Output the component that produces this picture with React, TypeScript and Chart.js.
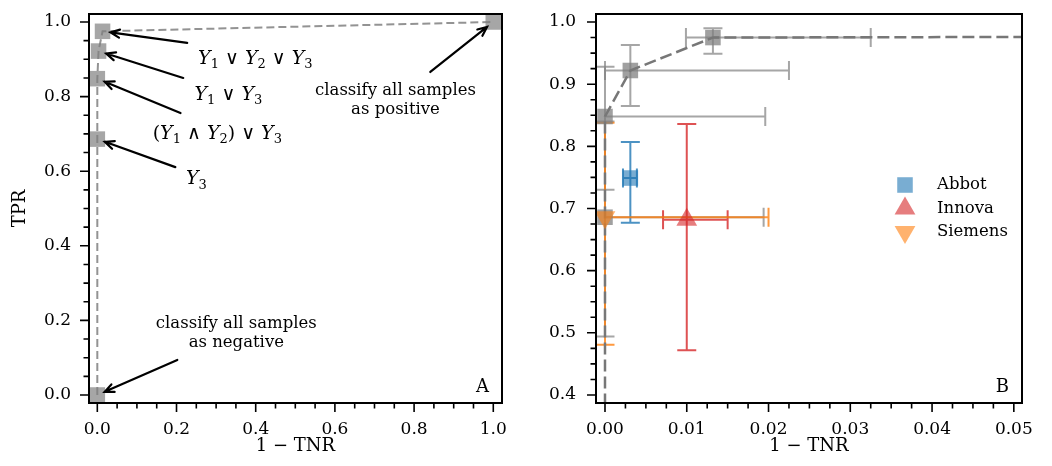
import React, { useEffect, useRef } from 'react';
import { Chart, registerables } from 'chart.js';

Chart.register(...registerables);

const SERIF = '"DejaVu Serif", "Liberation Serif", serif';

// ---------- data ----------
// ROC curve of the combined rules (both panels)
const rocFpr = [0, 0, 0, 0.0031, 0.0132, 1.0];
const rocTpr = [0, 0.686, 0.848, 0.922, 0.975, 1.0];
// confidence intervals of the ROC points (panel B)
const rocFprLo = [null, 0, 0, 0, 0.0099, null];
const rocFprHi = [null, 0.0194, 0.0196, 0.0225, 0.0325, null];
const rocTprLo = [null, 0.494, 0.73, 0.865, 0.949, null];
const rocTprHi = [null, 0.84, 0.928, 0.963, 0.99, null];

// individual tests (panel B)
const testNames = ['Abbot', 'Innova', 'Siemens'];
const testFpr = [0.0031, 0.01, 0.0];
const testTpr = [0.749, 0.682, 0.686];
const testFprLo = [0.0022, 0.0071, 0.0];
const testFprHi = [0.0039, 0.015, 0.02];
const testTprLo = [0.677, 0.472, 0.481];
const testTprHi = [0.807, 0.836, 0.838];
const testRgb = ['31,119,180', '214,39,40', '255,127,14'];
const testMarker = ['rect', 'triangle', 'triangleDown'];

// Panel A annotations (text position / arrow tail in data coordinates)
const annTexts = [
  'Y_1 ∨ Y_2 ∨ Y_3',
  'Y_1 ∨ Y_3',
  '(Y_1 ∧ Y_2) ∨ Y_3',
  'Y_3',
  'classify all samples\nas positive',
  'classify all samples\nas negative',
];
const annIsMath = [true, true, true, true, false, false];
const annTextX = [0.399, 0.331, 0.303, 0.25, 0.753, 0.351];
const annTextY = [0.906, 0.81, 0.705, 0.584, 0.79, 0.166];
const annTailX = [0.227, 0.217, 0.21, 0.197, 0.841, 0.202];
const annTailY = [0.944, 0.85, 0.756, 0.611, 0.866, 0.094];
const annPointIdx = [4, 3, 2, 1, 5, 0];

// ticks
const aXTicks = [0, 0.2, 0.4, 0.6, 0.8, 1.0];
const aYTicks = [0, 0.2, 0.4, 0.6, 0.8, 1.0];
const bXTicks = [0, 0.01, 0.02, 0.03, 0.04, 0.05];
const bYTicks = [0.4, 0.5, 0.6, 0.7, 0.8, 0.9, 1.0];

// ---------- helpers ----------
function subdivide(majors: number[]) {
  const out: number[] = [];
  for (let i = 0; i < majors.length - 1; i++) {
    const a = majors[i], b = majors[i + 1];
    for (let k = 1; k < 4; k++) out.push(a + ((b - a) * k) / 4);
  }
  return out;
}

function drawRich(ctx: CanvasRenderingContext2D, text: string, cx: number, cy: number, size: number) {
  const segs: { t: string; font: string; dy: number }[] = [];
  for (let i = 0; i < text.length; i++) {
    const c = text[i];
    if (c === '_') {
      segs.push({ t: text[i + 1], font: `${Math.round(size * 0.7)}px ${SERIF}`, dy: size * 0.24 });
      i++;
    } else if (/[A-Za-z]/.test(c)) {
      segs.push({ t: c, font: `italic ${size}px ${SERIF}`, dy: 0 });
    } else {
      segs.push({ t: c, font: `${size}px ${SERIF}`, dy: 0 });
    }
  }
  let total = 0;
  const widths = segs.map((s) => {
    ctx.font = s.font;
    const w = ctx.measureText(s.t).width;
    total += w;
    return w;
  });
  let x = cx - total / 2;
  const base = cy + size * 0.36;
  ctx.textAlign = 'left';
  ctx.textBaseline = 'alphabetic';
  segs.forEach((s, i) => {
    ctx.font = s.font;
    ctx.fillText(s.t, x, base + s.dy);
    x += widths[i];
  });
}

function drawMarker(ctx: CanvasRenderingContext2D, kind: string, x: number, y: number, r: number) {
  ctx.beginPath();
  if (kind === 'rect') {
    const s = Math.SQRT1_2 * r;
    ctx.rect(x - s, y - s, 2 * s, 2 * s);
  } else {
    const dir = kind === 'triangle' ? 1 : -1;
    let rad = 0;
    for (let k = 0; k < 3; k++) {
      const px = x + Math.sin(rad) * r;
      const py = y - dir * Math.cos(rad) * r;
      if (k === 0) ctx.moveTo(px, py);
      else ctx.lineTo(px, py);
      rad += (2 * Math.PI) / 3;
    }
    ctx.closePath();
  }
  ctx.fill();
}

const markerRadius = (kind: string) => (kind === 'rect' ? 11 : 12);

const frameTicksPlugin = {
  id: 'frameTicks',
  afterDatasetsDraw(chart: any, _args: any, opts: any) {
    const { ctx, chartArea: ca, scales } = chart;
    const xs = scales.x, ys = scales.y;
    ctx.save();
    ctx.strokeStyle = '#000';
    ctx.lineWidth = 1.6;
    ctx.beginPath();
    const xMaj: number[] = opts.xMajor, yMaj: number[] = opts.yMajor;
    xMaj.forEach((v) => {
      const p = xs.getPixelForValue(v);
      ctx.moveTo(p, ca.bottom);
      ctx.lineTo(p, ca.bottom + 9);
    });
    subdivide(xMaj).forEach((v) => {
      const p = xs.getPixelForValue(v);
      ctx.moveTo(p, ca.bottom);
      ctx.lineTo(p, ca.bottom + 5.5);
    });
    yMaj.forEach((v) => {
      const p = ys.getPixelForValue(v);
      ctx.moveTo(ca.left, p);
      ctx.lineTo(ca.left - 9, p);
    });
    subdivide(yMaj).forEach((v) => {
      const p = ys.getPixelForValue(v);
      ctx.moveTo(ca.left, p);
      ctx.lineTo(ca.left - 5.5, p);
    });
    ctx.stroke();
    ctx.lineWidth = 2;
    ctx.strokeRect(ca.left, ca.top, ca.right - ca.left, ca.bottom - ca.top);
    // panel letter
    ctx.fillStyle = '#000';
    ctx.font = `18px ${SERIF}`;
    ctx.textAlign = 'right';
    ctx.textBaseline = 'alphabetic';
    ctx.fillText(opts.letter, ca.right - 13, ca.bottom - 11);
    ctx.restore();
  },
};

const annotationPlugin = {
  id: 'rocAnnotations',
  afterDatasetsDraw(chart: any) {
    const { ctx, scales } = chart;
    const xs = scales.x, ys = scales.y;
    ctx.save();
    ctx.fillStyle = '#000';
    ctx.strokeStyle = '#000';
    annTexts.forEach((t, i) => {
      const tx = xs.getPixelForValue(annTextX[i]);
      const ty = ys.getPixelForValue(annTextY[i]);
      if (annIsMath[i]) {
        drawRich(ctx, t, tx, ty, 19);
      } else {
        const lines = t.split('\n');
        ctx.font = `16.5px ${SERIF}`;
        ctx.textAlign = 'center';
        ctx.textBaseline = 'middle';
        const lh = 19.5;
        lines.forEach((ln, k) => {
          ctx.fillText(ln, tx, ty + (k - (lines.length - 1) / 2) * lh);
        });
      }
      // arrow
      const px = xs.getPixelForValue(rocFpr[annPointIdx[i]]);
      const py = ys.getPixelForValue(rocTpr[annPointIdx[i]]);
      const sx = xs.getPixelForValue(annTailX[i]);
      const sy = ys.getPixelForValue(annTailY[i]);
      const dx = sx - px, dy = sy - py;
      const len = Math.hypot(dx, dy);
      const ux = dx / len, uy = dy / len;
      const hx = px + ux * 8, hy = py + uy * 8;
      ctx.lineWidth = 2.2;
      ctx.lineCap = 'round';
      ctx.beginPath();
      ctx.moveTo(sx, sy);
      ctx.lineTo(hx, hy);
      const ang = Math.atan2(uy, ux);
      const hl = 10, ha = 0.42;
      ctx.moveTo(hx + Math.cos(ang + ha) * hl, hy + Math.sin(ang + ha) * hl);
      ctx.lineTo(hx, hy);
      ctx.lineTo(hx + Math.cos(ang - ha) * hl, hy + Math.sin(ang - ha) * hl);
      ctx.stroke();
    });
    ctx.restore();
  },
};

function drawErr(
  ctx: CanvasRenderingContext2D, xs: any, ys: any,
  x: number, y: number, xlo: number, xhi: number, ylo: number, yhi: number, color: string
) {
  const px = xs.getPixelForValue(x), py = ys.getPixelForValue(y);
  const x0 = xs.getPixelForValue(xlo), x1 = xs.getPixelForValue(xhi);
  const y0 = ys.getPixelForValue(ylo), y1 = ys.getPixelForValue(yhi);
  const cap = 9.5;
  ctx.strokeStyle = color;
  ctx.lineWidth = 2;
  ctx.beginPath();
  ctx.moveTo(x0, py); ctx.lineTo(x1, py);
  ctx.moveTo(x0, py - cap); ctx.lineTo(x0, py + cap);
  ctx.moveTo(x1, py - cap); ctx.lineTo(x1, py + cap);
  ctx.moveTo(px, y0); ctx.lineTo(px, y1);
  ctx.moveTo(px - cap, y0); ctx.lineTo(px + cap, y0);
  ctx.moveTo(px - cap, y1); ctx.lineTo(px + cap, y1);
  ctx.stroke();
}

const errorBarPlugin = {
  id: 'errorBars',
  beforeDatasetsDraw(chart: any) {
    const { ctx, chartArea: ca, scales } = chart;
    const xs = scales.x, ys = scales.y;
    ctx.save();
    ctx.beginPath();
    ctx.rect(ca.left, ca.top, ca.right - ca.left, ca.bottom - ca.top);
    ctx.clip();
    rocFpr.forEach((x, i) => {
      if (rocFprLo[i] == null) return;
      drawErr(ctx, xs, ys, x, rocTpr[i], rocFprLo[i] as number, rocFprHi[i] as number,
        rocTprLo[i] as number, rocTprHi[i] as number, 'rgba(128,128,128,0.7)');
    });
    testNames.forEach((_n, i) => {
      drawErr(ctx, xs, ys, testFpr[i], testTpr[i], testFprLo[i], testFprHi[i],
        testTprLo[i], testTprHi[i], `rgba(${testRgb[i]},0.8)`);
    });
    ctx.restore();
  },
};

const legendPlugin = {
  id: 'testLegend',
  afterDatasetsDraw(chart: any) {
    const { ctx, chartArea: ca } = chart;
    ctx.save();
    testNames.forEach((name, i) => {
      const cy = ca.top + 171 + i * 23.5;
      ctx.fillStyle = `rgba(${testRgb[i]},0.6)`;
      drawMarker(ctx, testMarker[i], ca.right - 117, cy, markerRadius(testMarker[i]));
      ctx.fillStyle = '#000';
      ctx.font = `16.5px ${SERIF}`;
      ctx.textAlign = 'left';
      ctx.textBaseline = 'middle';
      ctx.fillText(name, ca.right - 85, cy);
    });
    ctx.restore();
  },
};

function axis(min: number, max: number, majors: number[], digits: number, fit: (s: any) => void, padding: number, title?: any) {
  return {
    type: 'linear',
    min,
    max,
    afterBuildTicks: (s: any) => {
      s.ticks = majors.map((v) => ({ value: v }));
    },
    afterFit: (s: any) => {
      fit(s);
      s.paddingTop = 0;
      s.paddingBottom = 0;
      s.paddingLeft = 0;
      s.paddingRight = 0;
    },
    grid: { display: false, drawTicks: false },
    border: { display: false },
    ticks: {
      autoSkip: false,
      maxRotation: 0,
      padding,
      color: '#000',
      font: { family: SERIF, size: 17 },
      callback: (v: any) => Number(v).toFixed(digits),
    },
    title: title || { display: false },
  };
}

function pts(xs: number[], ys: number[]) {
  return xs.map((x, i) => ({ x, y: ys[i] }));
}

export default function App() {
  const refA = useRef<HTMLCanvasElement>(null);
  const refB = useRef<HTMLCanvasElement>(null);

  useEffect(() => {
    const common = {
      responsive: false,
      animation: false,
      events: [],
    };

    const chartA = new Chart(refA.current as HTMLCanvasElement, {
      type: 'scatter',
      data: {
        datasets: [
          {
            data: pts(rocFpr, rocTpr),
            showLine: true,
            pointRadius: 0,
            borderColor: 'rgba(128,128,128,0.85)',
            borderWidth: 2,
            borderDash: [8, 4],
            order: 0,
            clip: false,
          },
          {
            data: pts(rocFpr, rocTpr),
            pointStyle: 'rect',
            pointRadius: 11,
            pointBackgroundColor: 'rgba(128,128,128,0.7)',
            pointBorderWidth: 0,
            order: 1,
            clip: false,
          },
        ],
      } as any,
      options: {
        ...common,
        layout: { padding: { top: 14, right: 38, left: 0, bottom: 0 } },
        plugins: {
          legend: { display: false },
          tooltip: { enabled: false },
          frameTicks: { xMajor: aXTicks, yMajor: aYTicks, letter: 'A' },
        },
        scales: {
          x: axis(-0.021, 1.022, aXTicks, 1, (s) => { s.height = 63; }, 16, {
            display: true, text: '1 − TNR', color: '#000',
            font: { family: SERIF, size: 18 }, padding: { top: 0, bottom: 9 },
          }),
          y: axis(-0.0214, 1.0214, aYTicks, 1, (s) => { s.width = 89; }, 18, {
            display: true, text: 'TPR', color: '#000',
            font: { family: SERIF, size: 18 }, padding: { top: 10, bottom: 0 },
          }),
        },
      } as any,
      plugins: [frameTicksPlugin, annotationPlugin],
    });

    const testDatasets = testNames.map((name, i) => ({
      label: name,
      data: [{ x: testFpr[i], y: testTpr[i] }],
      pointStyle: testMarker[i] === 'rect' ? 'rect' : 'triangle',
      pointRotation: testMarker[i] === 'triangleDown' ? 180 : 0,
      pointRadius: markerRadius(testMarker[i]),
      pointBackgroundColor: `rgba(${testRgb[i]},0.6)`,
      pointBorderWidth: 0,
      order: 3 - i,
    }));

    const chartB = new Chart(refB.current as HTMLCanvasElement, {
      type: 'scatter',
      data: {
        datasets: [
          ...testDatasets,
          {
            data: pts(rocFpr, rocTpr),
            showLine: true,
            pointRadius: 0,
            borderColor: '#777',
            borderWidth: 2.5,
            borderDash: [12, 5],
            order: 4,
          },
          {
            data: pts(rocFpr, rocTpr),
            pointStyle: 'rect',
            pointRadius: 11,
            pointBackgroundColor: 'rgba(128,128,128,0.75)',
            pointBorderWidth: 0,
            order: 5,
          },
        ],
      } as any,
      options: {
        ...common,
        layout: { padding: { top: 14, right: 30, left: 0, bottom: 0 } },
        plugins: {
          legend: { display: false },
          tooltip: { enabled: false },
          frameTicks: { xMajor: bXTicks, yMajor: bYTicks, letter: 'B' },
        },
        scales: {
          x: axis(-0.0011, 0.051, bXTicks, 2, (s) => { s.height = 63; }, 16, {
            display: true, text: '1 − TNR', color: '#000',
            font: { family: SERIF, size: 18 }, padding: { top: 0, bottom: 9 },
          }),
          y: axis(0.3871, 1.0129, bYTicks, 1, (s) => { s.width = 56; }, 20),
        },
      } as any,
      plugins: [errorBarPlugin, frameTicksPlugin, legendPlugin],
    });

    return () => {
      chartA.destroy();
      chartB.destroy();
    };
  }, []);

  return (
    <div style={{ position: 'absolute', left: 0, top: 0, width: 1052, height: 466, background: '#fff' }}>
      <div style={{ position: 'absolute', left: 0, top: 0, width: 540, height: 466 }}>
        <canvas ref={refA} width={540} height={466} />
      </div>
      <div style={{ position: 'absolute', left: 540, top: 0, width: 512, height: 466 }}>
        <canvas ref={refB} width={512} height={466} />
      </div>
    </div>
  );
}
